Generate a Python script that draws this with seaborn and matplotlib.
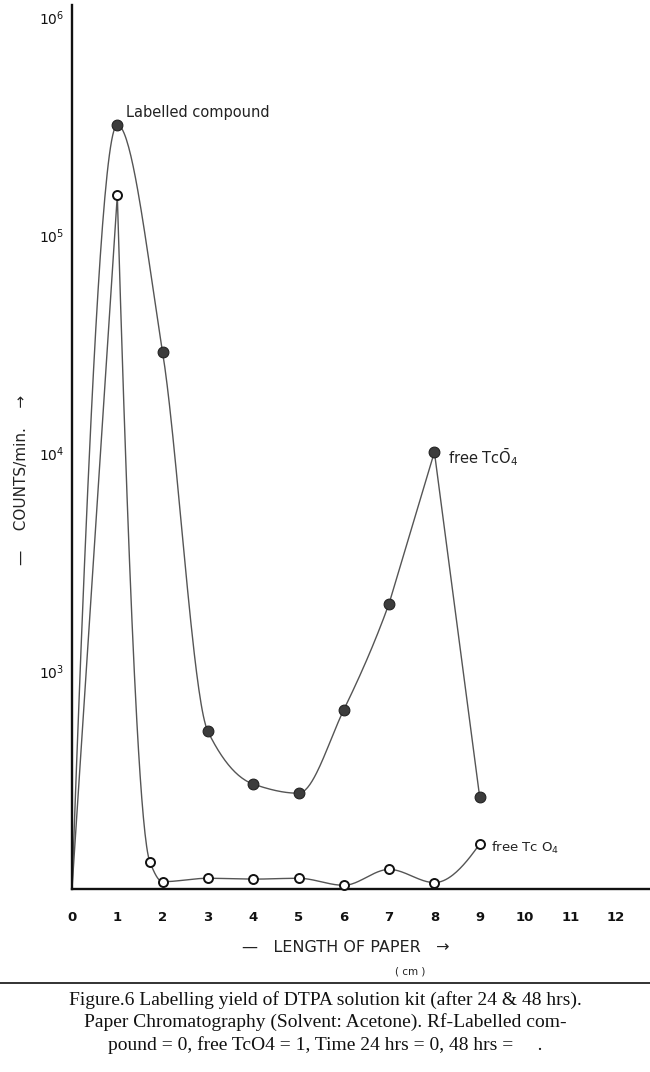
import numpy as np
import matplotlib
matplotlib.use("Agg")
import matplotlib.pyplot as plt
import seaborn as sns
from matplotlib.lines import Line2D
from matplotlib.ticker import FixedLocator, NullLocator, LogFormatterSciNotation

# ---- data ----
dist_24h = [0, 1, 2, 3, 4, 5, 6, 7, 8, 9]
counts_24h = [100, 320000, 29000, 528, 303, 275, 664, 2040, 10100, 264]
dist_48h = [0, 1, 1.72, 2, 3, 4, 5, 6, 7, 8, 9]
counts_48h = [100, 152000, 133, 108, 112, 111, 112, 104, 123, 107, 161]
x_ticks = list(range(13))
y_ticks = [1e3, 1e4, 1e5, 1e6]
label_labelled = "Labelled compound"
label_free_24 = r"free Tc$\mathregular{\bar{O}_4}$"
label_free_48 = r"free Tc O$\mathregular{_4}$"
xlabel = "\u2014   LENGTH OF PAPER   \u2192"
xunit = "( cm )"
ylabel = "\u2014    COUNTS/min.    \u2192"
caption = ["Figure.6 Labelling yield of DTPA solution kit (after 24 & 48 hrs).",
           "Paper Chromatography (Solvent: Acetone). Rf-Labelled com-",
           "pound = 0, free TcO4 = 1, Time 24 hrs = 0, 48 hrs =     ."]


def pchip_curve(x, y, per_seg=40, straight_from=None):
    x = np.asarray(x, float)
    y = np.asarray(y, float)
    h = np.diff(x)
    d = np.diff(y) / h
    m = np.zeros_like(y)
    for k in range(1, len(x) - 1):
        if d[k - 1] * d[k] > 0:
            w1 = 2 * h[k] + h[k - 1]
            w2 = h[k] + 2 * h[k - 1]
            m[k] = (w1 + w2) / (w1 / d[k - 1] + w2 / d[k])

    def end(h0, h1, d0, d1):
        mm = ((2 * h0 + h1) * d0 - h0 * d1) / (h0 + h1)
        if np.sign(mm) != np.sign(d0):
            mm = 0.0
        elif np.sign(d0) != np.sign(d1) and abs(mm) > abs(3 * d0):
            mm = 3 * d0
        return mm

    m[0] = end(h[0], h[1], d[0], d[1])
    m[-1] = end(h[-1], h[-2], d[-1], d[-2])
    xs, ys = [], []
    for k in range(len(h)):
        t = np.linspace(0, 1, per_seg, endpoint=(k == len(h) - 1))
        if straight_from is not None and x[k] >= straight_from:
            xs.append(x[k] + t * h[k])
            ys.append(y[k] + t * (y[k + 1] - y[k]))
            continue
        h00 = 2 * t**3 - 3 * t**2 + 1
        h10 = t**3 - 2 * t**2 + t
        h01 = -2 * t**3 + 3 * t**2
        h11 = t**3 - t**2
        xs.append(x[k] + t * h[k])
        ys.append(h00 * y[k] + h10 * h[k] * m[k] + h01 * y[k + 1] + h11 * h[k] * m[k + 1])
    return np.concatenate(xs), np.concatenate(ys)


sns.set_style("white")
plt.rcParams['font.family'] = ['DejaVu Sans']

W, H = 650, 1072
fig = plt.figure(figsize=(W / 100, H / 100), dpi=100)
ax_left, ax_bottom = 72, 889
px_per_unit = 45.3
px_per_dec = 218
ax = fig.add_axes([ax_left / W, 1 - ax_bottom / H, (W - ax_left) / W, (ax_bottom - 5) / H])

# smooth curves (log space)
cx24, cy24 = pchip_curve(dist_24h, np.log10(counts_24h), straight_from=7)
cx48, cy48 = pchip_curve(dist_48h[1:], np.log10(counts_48h[1:]))
cx48 = np.concatenate([[dist_48h[0]], cx48])
cy48 = np.concatenate([[np.log10(counts_48h[0])], cy48])

line_col = "#555555"
sns.lineplot(x=cx24, y=10**cy24, sort=False, estimator=None, ax=ax,
             color=line_col, lw=1.0)
sns.lineplot(x=cx48, y=10**cy48, sort=False, estimator=None, ax=ax,
             color=line_col, lw=1.0)

sns.scatterplot(x=dist_24h[1:], y=counts_24h[1:], ax=ax, s=60,
                color="#3c3c3c", edgecolor="#222222", linewidth=0.8,
                zorder=5, clip_on=False)
sns.scatterplot(x=dist_48h[1:], y=counts_48h[1:], ax=ax, s=42,
                facecolor="white", edgecolor="#111111", linewidth=1.4,
                zorder=5, clip_on=False)

ax.set_yscale("log")
ax.set_xlim(0, (W - ax_left) / px_per_unit)
ax.set_ylim(100, 10 ** (2 + (ax_bottom - 5) / px_per_dec))

ax.xaxis.set_major_locator(FixedLocator(x_ticks))
ax.yaxis.set_major_locator(FixedLocator(y_ticks))
ax.yaxis.set_minor_locator(NullLocator())
ax.yaxis.set_major_formatter(LogFormatterSciNotation())
ax.tick_params(axis="y", direction="inout", length=7, width=1.2, pad=2,
               labelsize=10, colors="#111111")
ax.tick_params(axis="x", direction="inout", length=5, width=1.0, pad=13,
               labelsize=9.5, colors="#111111")
for lab in ax.get_xticklabels():
    lab.set_fontweight("bold")

for s in ["top", "right"]:
    ax.spines[s].set_visible(False)
for s in ["left", "bottom"]:
    ax.spines[s].set_color("#111111")
    ax.spines[s].set_linewidth(1.7)
ax.set_xlabel("")
ax.set_ylabel("")
ax.grid(False)

# annotations
ax.annotate(label_labelled, xy=(dist_24h[1], counts_24h[1]), xytext=(6, 9),
            textcoords="offset points", va="center", ha="left", fontsize=10.5,
            color="#222222")
ax.annotate(label_free_24, xy=(dist_24h[8], counts_24h[8]), xytext=(10, -4),
            textcoords="offset points", va="center", ha="left", fontsize=10.5,
            color="#222222")
ax.annotate(label_free_48, xy=(dist_48h[-1], counts_48h[-1]), xytext=(8, -3),
            textcoords="offset points", va="center", ha="left", fontsize=9.5,
            color="#222222")

# axis titles
fig.text(346 / W, 1 - 948 / H, xlabel, ha="center", va="center", fontsize=11.5,
         color="#222222")
fig.text(410 / W, 1 - 972 / H, xunit, ha="center", va="center", fontsize=7.5,
         color="#222222")
fig.text(22 / W, 1 - 480 / H, ylabel, ha="center", va="center", rotation=90,
         fontsize=11, color="#222222")

# caption
fig.add_artist(Line2D([0, 1], [1 - 983 / H] * 2, color="#222222", lw=1.3))
for i, line in enumerate(caption):
    fig.text(0.5, 1 - (1000 + 22.5 * i) / H, line, ha="center", va="center",
             fontsize=14, family=["Liberation Serif", "DejaVu Serif"],
             color="#111111")

fig.savefig("out.png", dpi=100)
